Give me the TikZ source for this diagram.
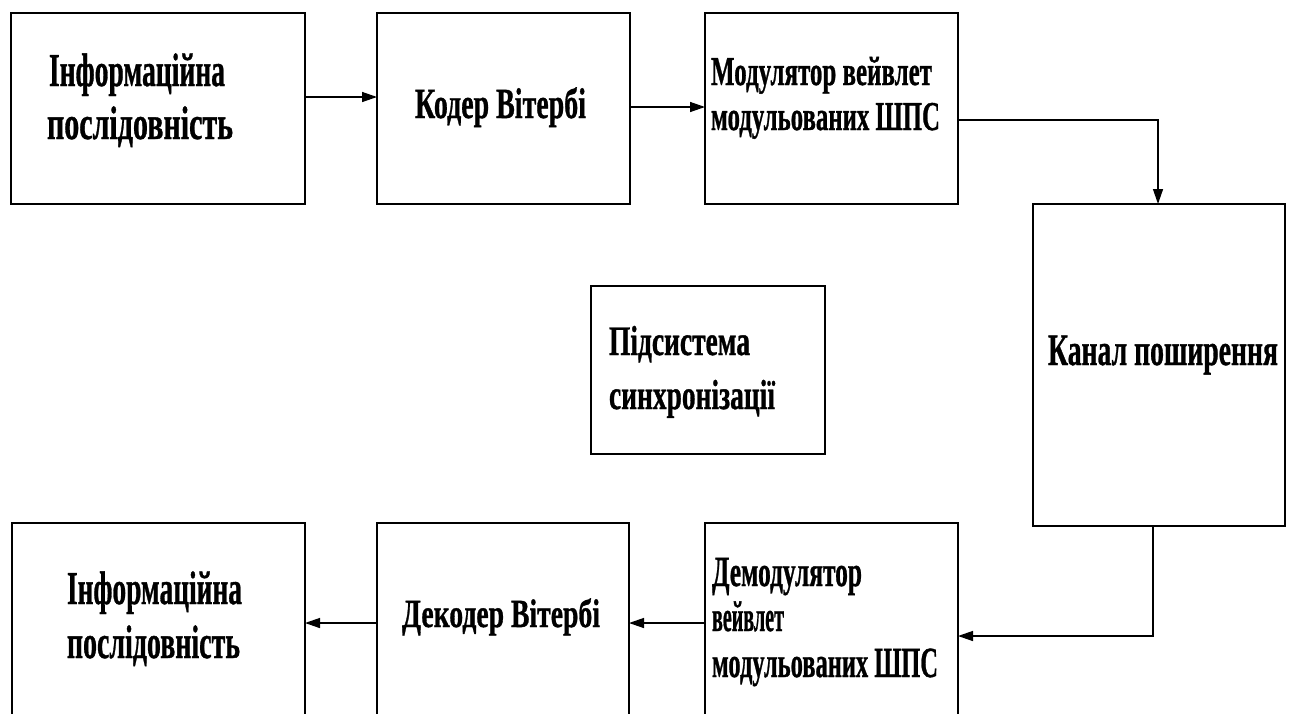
\documentclass[tikz,border=0pt]{standalone}
\usepackage{fontspec}
\setmainfont{Liberation Serif}
\newfontfamily\heavy{Liberation Serif Bold}[FakeBold=1]
\usepackage{graphicx}
\usetikzlibrary{arrows.meta}
\newcommand\fitw[3]{{\fontsize{#2}{#2}\heavy\resizebox{#1}{\height}{#3}}}
\tikzset{
  blk/.style={draw, line width=1.4pt, inner sep=0pt, outer sep=0pt},
  lbl/.style={anchor=base west, inner sep=0pt, outer sep=0pt},
  arr/.style={line width=1.4pt, -{Triangle[length=15pt,width=10pt]}},
}
\begin{document}
\begin{tikzpicture}[x=1pt,y=-1pt]
\useasboundingbox (0,0) rectangle (1292,713);
\fill[white] (0,0) rectangle (1292,713);
\begin{scope}
\clip (0,0) rectangle (1292,713);
% boxes
\node[blk, minimum width=294pt, minimum height=191pt] (b1) at (158,108.5) {};
\node[blk, minimum width=253pt, minimum height=191pt] (b2) at (503.5,108.5) {};
\node[blk, minimum width=253pt, minimum height=191pt] (b3) at (831.5,108.5) {};
\node[blk, minimum width=252pt, minimum height=322pt] (b4) at (1159,365) {};
\node[blk, minimum width=234pt, minimum height=168pt] (b5) at (708,370) {};
\node[blk, minimum width=293pt, minimum height=237pt] (b6) at (158.5,641.5) {};
\node[blk, minimum width=252pt, minimum height=237pt] (b7) at (503,641.5) {};
\node[blk, minimum width=253pt, minimum height=237pt] (b8) at (831.5,641.5) {};
% labels
\node[lbl] (t1a) at (49,86) {\fitw{176pt}{47pt}{Інформаційна}};
\node[lbl] (t1b) at (47,139) {\fitw{186pt}{47pt}{послідовність}};
\node[lbl] (t2) at (415,118) {\fitw{171pt}{43pt}{Кодер Вітербі}};
\node[lbl] (t3a) at (711,85) {\fitw{221pt}{41pt}{Модулятор вейвлет}};
\node[lbl] (t3b) at (711,130) {\fitw{229pt}{41pt}{модульованих ШПС}};
\node[lbl] (t4) at (1048,365) {\fitw{230pt}{45pt}{Канал поширення}};
\node[lbl] (t5a) at (609,355) {\fitw{141pt}{42pt}{Підсистема}};
\node[lbl] (t5b) at (609,409) {\fitw{166pt}{42pt}{синхронізації}};
\node[lbl] (t6a) at (67,604) {\fitw{175pt}{47pt}{Інформаційна}};
\node[lbl] (t6b) at (67,658) {\fitw{173pt}{47pt}{послідовність}};
\node[lbl] (t7) at (402,627) {\fitw{198pt}{40pt}{Декодер Вітербі}};
\node[lbl] (t8a) at (712,586) {\fitw{150pt}{43pt}{Демодулятор}};
\node[lbl] (t8b) at (712,631) {\fitw{72pt}{43pt}{вейвлет}};
\node[lbl] (t8c) at (712,677) {\fitw{226pt}{43pt}{модульованих ШПС}};
% connectors
\draw[arr] ([yshift=11.5pt]b1.east) -- ([yshift=11.5pt]b2.west);
\draw[arr] ([yshift=1.5pt]b2.east) -- ([yshift=1.5pt]b3.west);
\draw[arr] ([yshift=-11.5pt]b3.east) -| ([xshift=-1pt]b4.north);
\draw[arr] ([xshift=-6pt]b4.south) |- ([yshift=5.5pt]b8.east);
\draw[arr] ([yshift=18.5pt]b8.west) -- ([yshift=18.5pt]b7.east);
\draw[arr] ([yshift=18.5pt]b7.west) -- ([yshift=18.5pt]b6.east);
\end{scope}
\end{tikzpicture}
\end{document}
